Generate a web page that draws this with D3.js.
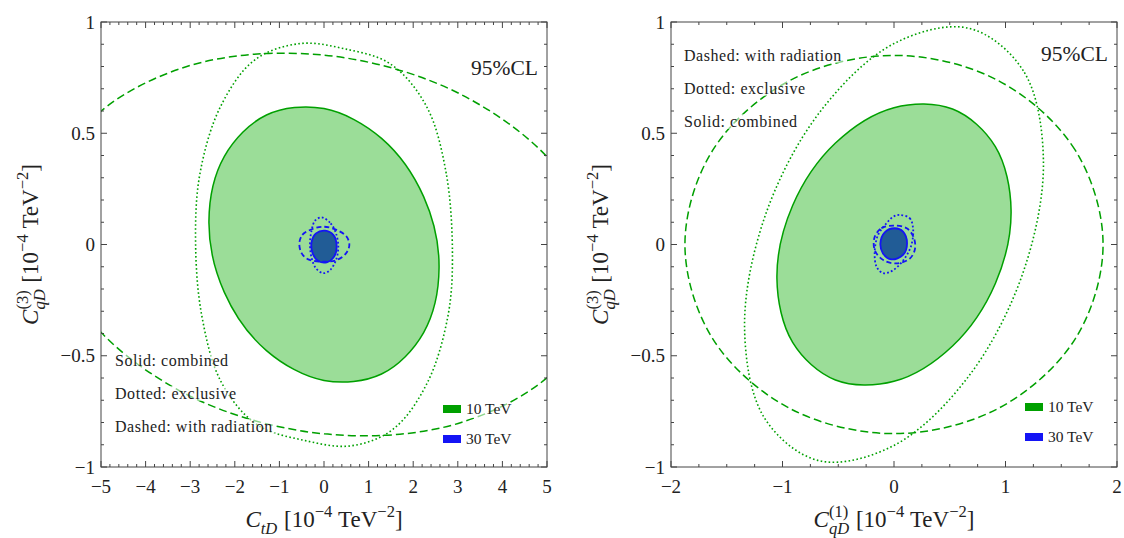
<!DOCTYPE html>
<html>
<head>
<meta charset="utf-8">
<script src="https://cdn.jsdelivr.net/npm/d3@7"></script>
<style>
  body { margin: 0; background: #fff; }
  svg { display: block; }
  text { font-family: "Liberation Serif", "DejaVu Serif", serif; fill: #222; }
</style>
</head>
<body>
<svg id="chart" width="1124" height="538"></svg>
<script>
// ---- data (units of 1e-4 TeV^-2) ----
var leftXTicks = [-5, -4, -3, -2, -1, 0, 1, 2, 3, 4, 5];
var rightXTicks = [-2, -1, 0, 1, 2];
var yTicks = [-1, -0.5, 0, 0.5, 1];

// left panel: C_tD vs C_qD^(3)
var leftGreenSolid = [[2.58, -0.105], [2.234, 0.215], [1.29, 0.477], [0, 0.611], [-1.29, 0.582], [-2.234, 0.396],
  [-2.58, 0.105], [-2.234, -0.215], [-1.29, -0.477], [0, -0.611], [1.29, -0.582], [2.234, -0.396]];
var leftGreenDotted = [[2.88, -0.05], [2.74, 0.32], [2.3, 0.62], [1.5, 0.81], [0.45, 0.88], [-0.54, 0.903],
  [-1.55, 0.83], [-2.32, 0.62], [-2.78, 0.32], [-2.88, 0.02], [-2.74, -0.32], [-2.3, -0.62],
  [-1.5, -0.81], [-0.45, -0.88], [0.6, -0.905], [1.55, -0.83], [2.32, -0.62], [2.78, -0.32]];
var leftGreenDashed = [[6.15, -0.126], [5.326, 0.316], [3.075, 0.674], [0, 0.851], [-3.075, 0.8], [-5.326, 0.535],
  [-6.15, 0.126], [-5.326, -0.316], [-3.075, -0.674], [0, -0.851], [3.075, -0.8], [5.326, -0.535]];
var leftBlueSolid = [[0.022, 0.062], [0.209, 0.043], [0.284, -0.010], [0.224, -0.055], [0.060, -0.080],
  [-0.127, -0.074], [-0.254, -0.040], [-0.276, 0.013], [-0.179, 0.050]];
var leftBlueDashed = [[-0.553, 0.005], [-0.486, 0.043], [-0.314, 0.065], [-0.015, 0.080], [0.321, 0.062],
  [0.508, 0.035], [0.568, -0.002], [0.493, -0.040], [0.284, -0.070], [-0.015, -0.077],
  [-0.352, -0.067], [-0.5, -0.040]];
var leftBlueDotted = [[-0.052, 0.122], [0.149, 0.095], [0.269, 0.050], [0.321, -0.010], [0.269, -0.070],
  [0.135, -0.115], [-0.015, -0.129], [-0.179, -0.107], [-0.276, -0.062], [-0.314, 0.005],
  [-0.276, 0.065], [-0.202, 0.107]];

// right panel: C_qD^(1) vs C_qD^(3)
var rightGreenSolid = [[1.05, 0.153], [0.909, 0.44], [0.525, 0.609], [0, 0.615], [-0.525, 0.456], [-0.909, 0.175],
  [-1.05, -0.153], [-0.909, -0.44], [-0.525, -0.609], [0, -0.615], [0.525, -0.456], [0.909, -0.175]];
var rightGreenDotted = [[1.34, 0.38], [1.16, 0.781], [0.67, 0.972], [0, 0.903], [-0.67, 0.592], [-1.16, 0.1225],
  [-1.34, -0.38], [-1.16, -0.781], [-0.67, -0.972], [0, -0.903], [0.67, -0.592], [1.16, -0.1225]];
var rightGreenDashed = [[1.875, 0], [1.624, 0.425], [0.9375, 0.736], [0, 0.85], [-0.9375, 0.736], [-1.624, 0.425],
  [-1.875, 0], [-1.624, -0.425], [-0.9375, -0.736], [0, -0.85], [0.9375, -0.736], [1.624, -0.425]];
var rightBlueSolid = [[0.006, 0.073], [0.081, 0.058], [0.117, 0.005], [0.081, -0.047], [-0.023, -0.067],
  [-0.099, -0.040], [-0.122, 0.005], [-0.083, 0.055]];
var rightBlueDashed = [[-0.173, 0.035], [-0.113, 0.073], [-0.006, 0.085], [0.114, 0.073], [0.174, 0.035],
  [0.189, -0.017], [0.144, -0.062], [0.024, -0.085], [-0.096, -0.070], [-0.173, -0.025]];
var rightBlueDotted = [[0.051, 0.133], [0.141, 0.118], [0.171, 0.073], [0.156, -0.002], [0.096, -0.062],
  [-0.006, -0.115], [-0.096, -0.129], [-0.156, -0.100], [-0.173, -0.032], [-0.143, 0.043],
  [-0.068, 0.095], [-0.006, 0.125]];

var styleNotes = ["Solid: combined", "Dotted: exclusive", "Dashed: with radiation"];
var energies = ["10 TeV", "30 TeV"];

var GREEN = "#00a000", GREEN_FILL = "#9bdd98";
var BLUE = "#1414f5", BLUE_FILL = "#215c96";
var NB = "\u00a0";

var svg = d3.select("#chart");

var panels = [
  {
    id: "L", left: 101, right: 547, top: 22, bottom: 467,
    xDomain: [-5, 5], xTicks: leftXTicks, xMinor: 0.2,
    green: [leftGreenSolid, leftGreenDotted, leftGreenDashed],
    blue: [leftBlueSolid, leftBlueDashed, leftBlueDotted],
    notes: [styleNotes[0], styleNotes[1], styleNotes[2]],
    notesX: 115, notesY: 366, clX: 538, clY: 75,
    swX: 443, swY: 405, xSub: "tD", xSup: null, yLabelX: 38
  },
  {
    id: "R", left: 671, right: 1117, top: 22, bottom: 467,
    xDomain: [-2, 2], xTicks: rightXTicks, xMinor: 0.25,
    green: [rightGreenSolid, rightGreenDotted, rightGreenDashed],
    blue: [rightBlueSolid, rightBlueDashed, rightBlueDotted],
    notes: [styleNotes[2], styleNotes[1], styleNotes[0]],
    notesX: 684, notesY: 61, clX: 1108, clY: 61,
    swX: 1025, swY: 403, xSub: "qD", xSup: "(1)", yLabelX: 608
  }
];

// lay out a label from pieces; a piece is plain, italic, superscript or a stacked sup/sub pair
function mathLabel(g, pieces, size) {
  var x = 0;
  pieces.forEach(function (p) {
    if (p.stack) {
      var w = 0;
      if (p.stack[0]) {
        var a = g.append("text").attr("x", x).attr("y", -size * 0.45)
          .style("font-size", (size * 0.72) + "px").text(p.stack[0]);
        w = a.node().getComputedTextLength();
      }
      var b = g.append("text").attr("x", x).attr("y", size * 0.3)
        .style("font-size", (size * 0.72) + "px").style("font-style", "italic").text(p.stack[1]);
      x += Math.max(w, b.node().getComputedTextLength()) + 1;
      return;
    }
    var t = g.append("text").attr("x", x).style("font-size", size + "px").text(p.t);
    if (p.it) t.style("font-style", "italic");
    if (p.sup) t.attr("y", -size * 0.42).style("font-size", (size * 0.72) + "px");
    x += t.node().getComputedTextLength();
  });
  return x;
}

panels.forEach(function (p) {
  var x = d3.scaleLinear().domain(p.xDomain).range([p.left, p.right]);
  var y = d3.scaleLinear().domain([-1, 1]).range([p.bottom, p.top]);
  var g = svg.append("g");

  g.append("clipPath").attr("id", "clip" + p.id).append("rect")
    .attr("x", p.left).attr("y", p.top).attr("width", p.right - p.left).attr("height", p.bottom - p.top);

  var line = d3.line().x(function (d) { return x(d[0]); }).y(function (d) { return y(d[1]); })
    .curve(d3.curveCatmullRomClosed.alpha(0.5));

  var plot = g.append("g").attr("clip-path", "url(#clip" + p.id + ")");
  plot.append("path").attr("d", line(p.green[0])).attr("fill", GREEN_FILL)
    .attr("stroke", GREEN).attr("stroke-width", 1.5);
  plot.append("path").attr("d", line(p.green[1])).attr("fill", "none")
    .attr("stroke", GREEN).attr("stroke-width", 1.6).attr("stroke-dasharray", "1.6,2.4");
  plot.append("path").attr("d", line(p.green[2])).attr("fill", "none")
    .attr("stroke", GREEN).attr("stroke-width", 1.5).attr("stroke-dasharray", "8,4");
  plot.append("path").attr("d", line(p.blue[0])).attr("fill", BLUE_FILL)
    .attr("stroke", BLUE).attr("stroke-width", 1.8);
  plot.append("path").attr("d", line(p.blue[1])).attr("fill", "none")
    .attr("stroke", BLUE).attr("stroke-width", 1.8).attr("stroke-dasharray", "5,3");
  plot.append("path").attr("d", line(p.blue[2])).attr("fill", "none")
    .attr("stroke", BLUE).attr("stroke-width", 1.8).attr("stroke-dasharray", "1.8,2.2");

  // style notes on translucent boxes
  p.notes.forEach(function (txt, i) {
    var t = g.append("text").attr("x", p.notesX).attr("y", p.notesY + i * 33)
      .style("font-size", "16px").style("letter-spacing", "0.55px").text(txt);
    var bb = t.node().getBBox();
    g.insert("rect", function () { return t.node(); })
      .attr("x", bb.x - 2).attr("y", bb.y + 1).attr("width", bb.width + 4).attr("height", bb.height - 2)
      .attr("fill", "#fff").attr("opacity", 0.55);
  });

  // energy legend
  [GREEN, BLUE].forEach(function (c, i) {
    var yy = p.swY + i * 30;
    g.append("rect").attr("x", p.swX - 3).attr("y", yy - 5).attr("width", 70).attr("height", 18)
      .attr("fill", "#fff").attr("opacity", 0.55);
    g.append("rect").attr("x", p.swX).attr("y", yy).attr("width", 18).attr("height", 8).attr("fill", c);
    g.append("text").attr("x", p.swX + 23).attr("y", yy + 9).style("font-size", "15.5px").text(energies[i]);
  });

  g.append("text").attr("x", p.clX).attr("y", p.clY).attr("text-anchor", "end")
    .style("font-size", "21.5px").text("95%CL");

  // frame and ticks (inward, all four sides)
  var ax = g.append("g").attr("stroke", "#444").attr("stroke-width", 1);
  var xMinor = d3.range(p.xDomain[0], p.xDomain[1] + 1e-9, p.xMinor);
  var yMinor = d3.range(-1, 1 + 1e-9, 0.1);
  xMinor.forEach(function (v) {
    var major = p.xTicks.some(function (t) { return Math.abs(t - v) < 1e-6; });
    var len = major ? 6 : 3;
    ax.append("line").attr("x1", x(v)).attr("x2", x(v)).attr("y1", p.bottom).attr("y2", p.bottom - len);
    ax.append("line").attr("x1", x(v)).attr("x2", x(v)).attr("y1", p.top).attr("y2", p.top + len);
  });
  yMinor.forEach(function (v) {
    var major = yTicks.some(function (t) { return Math.abs(t - v) < 1e-6; });
    var len = major ? 6 : 3;
    ax.append("line").attr("y1", y(v)).attr("y2", y(v)).attr("x1", p.left).attr("x2", p.left + len);
    ax.append("line").attr("y1", y(v)).attr("y2", y(v)).attr("x1", p.right).attr("x2", p.right - len);
  });
  ax.append("rect").attr("x", p.left).attr("y", p.top).attr("width", p.right - p.left)
    .attr("height", p.bottom - p.top).attr("fill", "none");

  var fmt = function (v) { return (v < 0 ? "\u2212" : "") + Math.abs(v); };
  p.xTicks.forEach(function (v) {
    g.append("text").attr("x", x(v)).attr("y", p.bottom + 26).attr("text-anchor", "middle")
      .style("font-size", "19px").text(fmt(v));
  });
  yTicks.forEach(function (v) {
    g.append("text").attr("x", p.left - 6).attr("y", y(v) + 6.5).attr("text-anchor", "end")
      .style("font-size", "19px").text(fmt(v));
  });

  var unit = [{ t: NB + "[10" }, { t: "\u22124", sup: true }, { t: NB + "TeV" }, { t: "\u22122", sup: true }, { t: "]" }];

  // x axis label
  var xl = g.append("g");
  var xw = mathLabel(xl, [{ t: "C", it: true }, { stack: [p.xSup, p.xSub] }].concat(unit), 23);
  xl.attr("transform", "translate(" + ((p.left + p.right) / 2 - xw / 2) + "," + (p.bottom + 60) + ")");

  // y axis label
  var yl = g.append("g");
  var yw = mathLabel(yl, [{ t: "C", it: true }, { stack: ["(3)", "qD"] }].concat(unit), 23);
  yl.attr("transform", "translate(" + p.yLabelX + "," + ((p.top + p.bottom) / 2 + yw / 2) + ") rotate(-90)");
});
</script>
</body>
</html>
